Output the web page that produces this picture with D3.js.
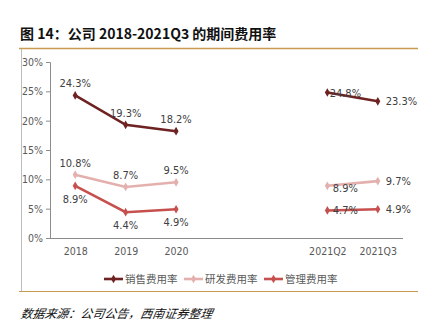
<!DOCTYPE html>
<html>
<head>
<meta charset="utf-8">
<script src="https://cdn.jsdelivr.net/npm/d3@7/dist/d3.min.js"></script>
<style>
  body { margin: 0; background: #fff; }
  svg { display: block; }
</style>
</head>
<body>
<div id="wrapper"></div>
<script>
// periods, with two empty slots between the annual and quarterly figures
const periods = ["2018", "2019", "2020", "gap1", "gap2", "2021Q2", "2021Q3"]
const periodLabels = ["2018", "2019", "2020", "", "", "2021Q2", "2021Q3"]

const salesRate = [24.3, 19.3, 18.2, null, null, 24.8, 23.3]
const rndRate = [10.8, 8.7, 9.5, null, null, 8.9, 9.7]
const adminRate = [8.9, 4.4, 4.9, null, null, 4.7, 4.9]

const yTicks = [0, 5, 10, 15, 20, 25, 30]

const seriesNames = ["销售费用率", "研发费用率", "管理费用率"]
const seriesColors = ["#6e2222", "#e3b0ae", "#c5504e"]
// label side per point: up / down / right / over
const labelPos = [
  ["up", "up", "up", null, null, "over", "right"],
  ["up", "up", "up", null, null, "overdown", "right"],
  ["down", "down", "down", null, null, "over", "right"],
]

function drawChart() {
  const width = 434
  const height = 336
  const numFont = "'Liberation Sans Narrow', 'DejaVu Sans Condensed', sans-serif"
  const cjkFont = "'Noto Sans CJK SC', sans-serif"

  const dimensions = {
    width, height,
    margin: { top: 62, right: 31, bottom: 98, left: 50 },
  }
  dimensions.boundedWidth = width - dimensions.margin.left - dimensions.margin.right
  dimensions.boundedHeight = height - dimensions.margin.top - dimensions.margin.bottom

  const svg = d3.select("#wrapper").append("svg")
    .attr("width", width)
    .attr("height", height)

  // heading, frame rules and source note
  svg.append("text")
    .attr("x", 20).attr("y", 39)
    .attr("font-family", cjkFont)
    .attr("font-weight", "bold")
    .attr("font-size", 14)
    .attr("fill", "#111")
    .text("图 14：公司 2018-2021Q3 的期间费用率")

  svg.append("line")
    .attr("x1", 19).attr("x2", 418).attr("y1", 48.5).attr("y2", 48.5)
    .attr("stroke", "#c99a52").attr("stroke-width", 1.5)
  svg.append("line")
    .attr("x1", 19).attr("x2", 418).attr("y1", 291.5).attr("y2", 291.5)
    .attr("stroke", "#c99a52").attr("stroke-width", 1.2)
  svg.append("line")
    .attr("x1", 21.5).attr("x2", 21.5).attr("y1", 49).attr("y2", 291)
    .attr("stroke", "#bdbdbd").attr("stroke-width", 1)

  svg.append("text")
    .attr("x", 20).attr("y", 318)
    .attr("font-family", cjkFont)
    .attr("font-size", 12)
    .attr("font-style", "italic")
    .attr("transform", "skewX(-10) translate(56,0)")
    .attr("fill", "#111")
    .text("数据来源：公司公告，西南证券整理")

  const bounds = svg.append("g")
    .attr("transform", `translate(${dimensions.margin.left},${dimensions.margin.top})`)

  const xScale = d3.scalePoint()
    .domain(periods)
    .range([0, dimensions.boundedWidth])
    .padding(0.5)

  const yScale = d3.scaleLinear()
    .domain([0, 30])
    .range([dimensions.boundedHeight, 0])

  // axes
  const yAxis = bounds.append("g")
    .call(d3.axisLeft(yScale).tickValues(yTicks).tickSize(4).tickFormat(d => d + "%"))
  const xAxis = bounds.append("g")
    .attr("transform", `translate(0,${dimensions.boundedHeight})`)
    .call(d3.axisBottom(xScale).tickSize(0).tickPadding(10)
      .tickFormat((d, i) => periodLabels[i]))
  xAxis.select(".domain").attr("d", `M0,0.5H${dimensions.boundedWidth}`)

  ;[yAxis, xAxis].forEach(ax => {
    ax.select(".domain").attr("stroke", "#8c8c8c")
    ax.selectAll(".tick line").attr("stroke", "#8c8c8c")
    ax.selectAll("text")
      .attr("font-family", numFont)
      .attr("font-size", 10.5)
      .attr("fill", "#595959")
  })

  // series
  const allSeries = [salesRate, rndRate, adminRate]
  const lineGenerator = d3.line()
    .defined(d => d.v != null)
    .x(d => xScale(d.p))
    .y(d => yScale(d.v))
  const diamond = d3.symbol().type(d3.symbolDiamond).size(22)

  allSeries.forEach((values, s) => {
    const pts = values.map((v, i) => ({ p: periods[i], v, pos: labelPos[s][i] }))
    const g = bounds.append("g")
    g.append("path")
      .attr("d", lineGenerator(pts))
      .attr("fill", "none")
      .attr("stroke", seriesColors[s])
      .attr("stroke-width", 2.6)
    const valid = pts.filter(d => d.v != null)
    g.selectAll("path.m").data(valid).join("path")
      .attr("class", "m")
      .attr("d", diamond)
      .attr("transform", d => `translate(${xScale(d.p)},${yScale(d.v)})`)
      .attr("fill", seriesColors[s])

    g.selectAll("text").data(valid).join("text")
      .attr("x", d => {
        const x = xScale(d.p)
        if (d.pos === "right") return x + 8
        if (d.pos === "over" || d.pos === "overdown") return x + 18
        return x
      })
      .attr("y", d => {
        const y = yScale(d.v)
        if (d.pos === "up") return y - 8
        if (d.pos === "down") return y + 17
        if (d.pos === "overdown") return y + 6
        return y + 4
      })
      .attr("text-anchor", d => d.pos === "right" ? "start" : "middle")
      .attr("font-family", numFont)
      .attr("font-size", 11)
      .attr("fill", "#404040")
      .text(d => d.v.toFixed(1) + "%")
  })

  // legend
  const legend = svg.append("g").attr("transform", "translate(104,279)")
  seriesNames.forEach((name, s) => {
    const item = legend.append("g").attr("transform", `translate(${s * 80},0)`)
    item.append("line")
      .attr("x1", 0).attr("x2", 19)
      .attr("stroke", seriesColors[s]).attr("stroke-width", 2.6)
    item.append("path")
      .attr("d", diamond)
      .attr("transform", "translate(9.5,0)")
      .attr("fill", seriesColors[s])
    item.append("text")
      .attr("x", 21).attr("y", 4)
      .attr("font-family", cjkFont)
      .attr("font-size", 10.5)
      .attr("fill", "#595959")
      .text(name)
  })
}
drawChart()
</script>
</body>
</html>
